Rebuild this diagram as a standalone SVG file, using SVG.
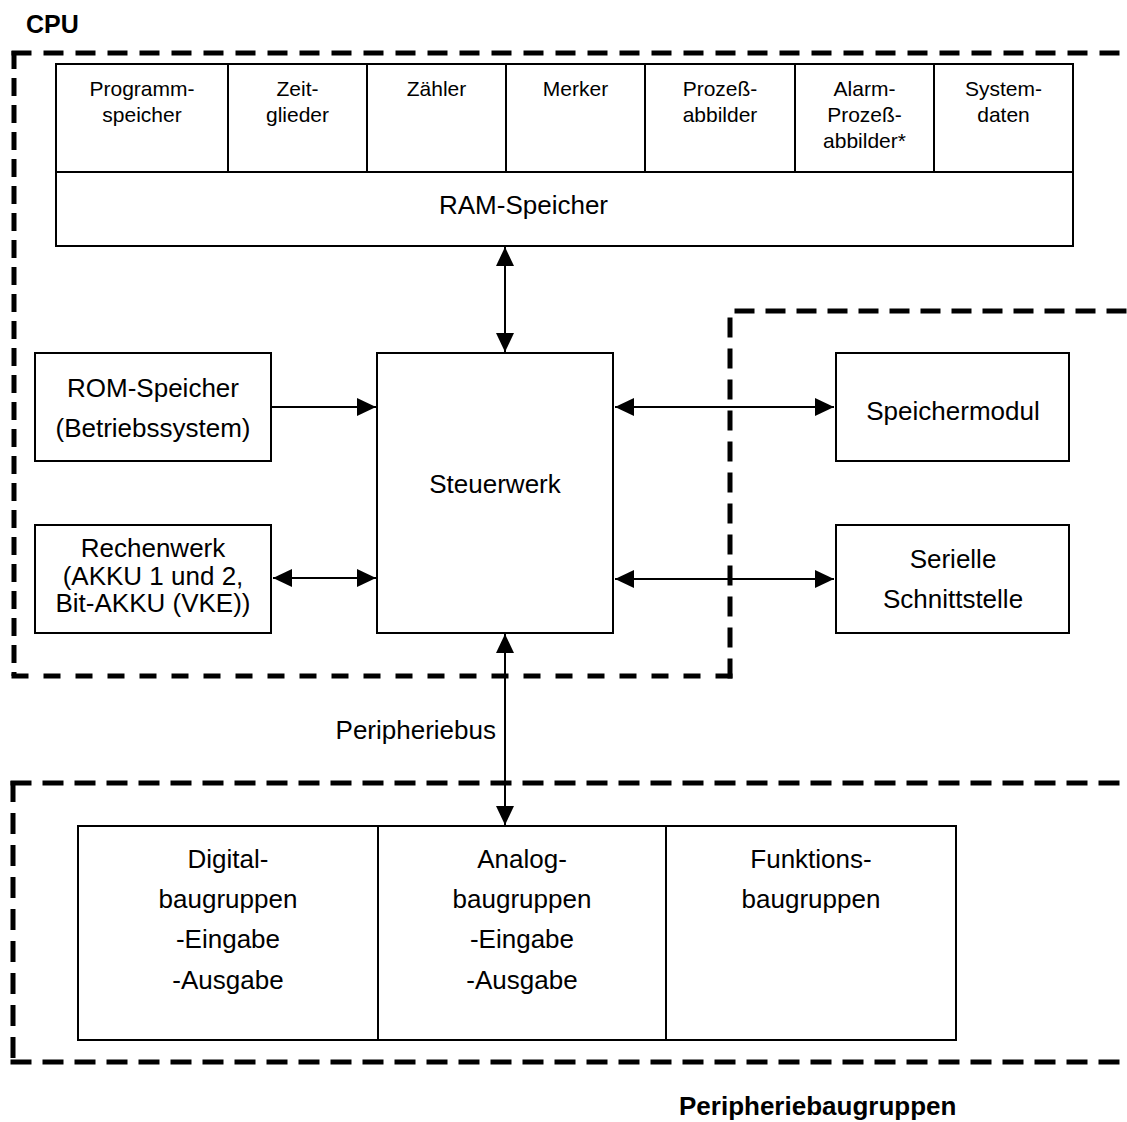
<svg xmlns="http://www.w3.org/2000/svg" width="1127" height="1122" viewBox="0 0 1127 1122">
<style>
.box{fill:#fff;stroke:#000;stroke-width:2}
.ln{fill:none;stroke:#000;stroke-width:2}
.dash{fill:none;stroke:#000;stroke-width:5}
.con{fill:none;stroke:#000;stroke-width:2}
.t{font-family:"Liberation Sans",Arial,Helvetica,sans-serif;fill:#000;text-anchor:middle}
.s21{font-size:21px}
.s26{font-size:26px}
.bold{font-weight:bold;text-anchor:start}
.st{text-anchor:start}
</style>
<defs>
<marker id="ah" viewBox="0 0 19 18" refX="19" refY="9" markerWidth="19" markerHeight="18" markerUnits="userSpaceOnUse" orient="auto-start-reverse"><path d="M0,0L19,9L0,18z" fill="#000"/></marker>
</defs>
<rect width="1127" height="1122" fill="#fff"/>

<g id="cpu-boundary">
<path class="dash" style="stroke-dasharray:20 12" d="M11.5,53H1127"/>
<path class="dash" style="stroke-dasharray:18 9" d="M14,51V676"/>
<path class="dash" style="stroke-dasharray:17 15" d="M11.5,676H732.5"/>
<path class="dash" style="stroke-dasharray:20 11" d="M730,678.5V311H1127"/>
<text class="t s26 bold" x="26" y="33" style="font-size:25px">CPU</text>
</g>

<g id="peripherie-boundary">
<path class="dash" style="stroke-dasharray:21 11" d="M10.5,783H1127"/>
<path class="dash" style="stroke-dasharray:21 11" d="M13,781V1064"/>
<path class="dash" style="stroke-dasharray:21 11" d="M10.5,1062H1127"/>
<text class="t s26 bold" x="679" y="1115">Peripheriebaugruppen</text>
</g>

<g id="ram">
<rect class="box" x="56" y="64" width="1017" height="182"/>
<path class="ln" d="M56,172H1073M228,64V172M367,64V172M506,64V172M645,64V172M795,64V172M934,64V172"/>
<text class="t s21" x="142" y="96">Programm-<tspan x="142" y="122">speicher</tspan></text>
<text class="t s21" x="297.5" y="96">Zeit-<tspan x="297.5" y="122">glieder</tspan></text>
<text class="t s21" x="436.5" y="96">Zähler</text>
<text class="t s21" x="575.5" y="96">Merker</text>
<text class="t s21" x="720" y="96">Prozeß-<tspan x="720" y="122">abbilder</tspan></text>
<text class="t s21" x="864.5" y="96">Alarm-<tspan x="864.5" y="122">Prozeß-</tspan><tspan x="864.5" y="148">abbilder*</tspan></text>
<text class="t s21" x="1003.5" y="96">System-<tspan x="1003.5" y="122">daten</tspan></text>
<text class="t s26" x="523.5" y="214">RAM-Speicher</text>
</g>

<g id="rom">
<rect class="box" x="35" y="353" width="236" height="108"/>
<text class="t s26" x="153" y="397">ROM-Speicher<tspan x="153" y="437">(Betriebssystem)</tspan></text>
</g>

<g id="rechenwerk">
<rect class="box" x="35" y="525" width="236" height="108"/>
<text class="t s26" x="153" y="557">Rechenwerk<tspan x="153" y="585">(AKKU 1 und 2,</tspan><tspan x="153" y="612">Bit-AKKU (VKE))</tspan></text>
</g>

<g id="steuerwerk">
<rect class="box" x="377" y="353" width="236" height="280"/>
<text class="t s26" x="495" y="493">Steuerwerk</text>
</g>

<g id="speichermodul">
<rect class="box" x="836" y="353" width="233" height="108"/>
<text class="t s26" x="953" y="420">Speichermodul</text>
</g>

<g id="seriell">
<rect class="box" x="836" y="525" width="233" height="108"/>
<text class="t s26" x="953" y="568">Serielle<tspan x="953" y="608">Schnittstelle</tspan></text>
</g>

<g id="peripherie">
<rect class="box" x="78" y="826" width="878" height="214"/>
<path class="ln" d="M378,826V1040M666,826V1040"/>
<text class="t s26" x="228" y="868">Digital-<tspan x="228" y="908">baugruppen</tspan><tspan x="228" y="948">-Eingabe</tspan><tspan x="228" y="989">-Ausgabe</tspan></text>
<text class="t s26" x="522" y="868">Analog-<tspan x="522" y="908">baugruppen</tspan><tspan x="522" y="948">-Eingabe</tspan><tspan x="522" y="989">-Ausgabe</tspan></text>
<text class="t s26" x="811" y="868">Funktions-<tspan x="811" y="908">baugruppen</tspan></text>
</g>

<g id="connectors">
<path class="con" marker-start="url(#ah)" marker-end="url(#ah)" d="M505,247V352"/>
<path class="con" marker-end="url(#ah)" d="M271,407H376"/>
<path class="con" marker-start="url(#ah)" marker-end="url(#ah)" d="M273,578H376"/>
<path class="con" marker-start="url(#ah)" marker-end="url(#ah)" d="M615,407H834"/>
<path class="con" marker-start="url(#ah)" marker-end="url(#ah)" d="M615,579H834"/>
<path class="con" marker-start="url(#ah)" marker-end="url(#ah)" d="M505,634V825"/>
<text class="t s26" x="496" y="739" style="text-anchor:end">Peripheriebus</text>
</g>
</svg>
